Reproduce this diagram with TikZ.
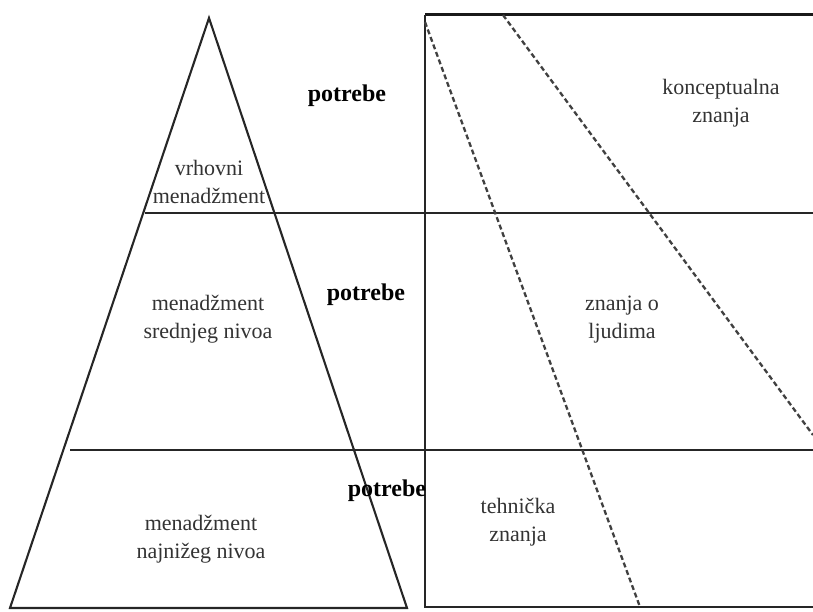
\documentclass[tikz,border=0pt]{standalone}
\usepackage{fontspec}
\setmainfont{Liberation Serif}
\begin{document}
\begin{tikzpicture}[x=1pt,y=-1pt,
  lbl/.style={font=\fontsize{22}{28}\selectfont, align=center, text=black!80, inner sep=0pt},
  need/.style={font=\fontsize{24}{28}\selectfont\bfseries, inner sep=0pt},
  edgeline/.style={line width=2.1pt, draw=black!85},
  dashline/.style={line width=2.3pt, draw=black!75, dash pattern=on 5pt off 3pt}]
\useasboundingbox (0,0) rectangle (813,612);
% triangle
\coordinate (apex) at (209,18);
\coordinate (bl) at (10,608);
\coordinate (br) at (407,608);
\draw[edgeline, line join=miter] (bl) -- (apex) -- (br) -- cycle;
% box
\coordinate (tl) at (425,15);
\coordinate (tr) at (813,15);
\coordinate (blx) at (425,607);
\coordinate (brx) at (813,607);
\draw[line width=3pt, draw=black!90] (tl) -- (tr);
\draw[edgeline] (tl) -- (blx) -- (brx);
% horizontal dividers
\coordinate (h1a) at (145,213);
\coordinate (h1b) at (813,213);
\coordinate (h2a) at (70,450);
\coordinate (h2b) at (813,450);
\draw[edgeline] (h1a) -- (h1b);
\draw[edgeline] (h2a) -- (h2b);
% dashed lines
\coordinate (d1a) at (425,22);
\coordinate (d1b) at (640,607);
\coordinate (d2a) at (503,15);
\coordinate (d2b) at (813,435);
\draw[dashline] (d1a) -- (d1b);
\draw[dashline] (d2a) -- (d2b);
% labels
\node[lbl] (top) at (209,182) {vrhovni\\menadžment};
\node[lbl] (mid) at (208,319) {menadžment\\srednjeg nivoa};
\node[lbl] (low) at (201,539) {menadžment\\najnižeg nivoa};
\node[need] (p1) at (347,96) {potrebe};
\node[need] (p2) at (366,295) {potrebe};
\node[need] (p3) at (387,491) {potrebe};
\node[lbl] (k1) at (721,103) {konceptualna\\znanja};
\node[lbl] (k2) at (622,320) {znanja o\\ljudima};
\node[lbl] (k3) at (518,522) {tehnička\\znanja};
\end{tikzpicture}
\end{document}
